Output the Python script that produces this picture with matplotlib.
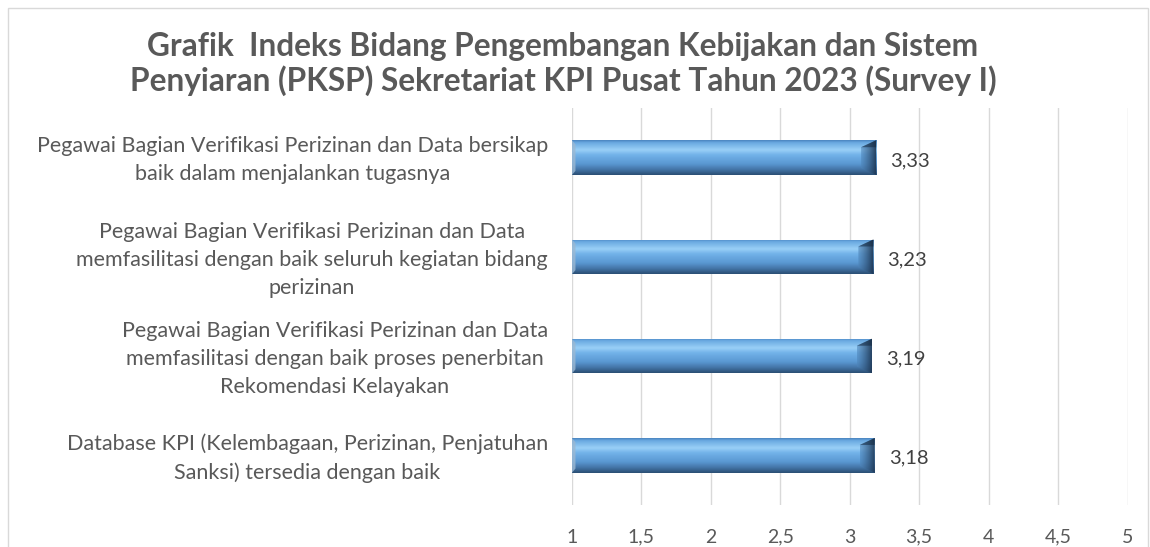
import matplotlib
matplotlib.use("Agg")
import matplotlib.pyplot as plt
import numpy as np
from matplotlib.colors import LinearSegmentedColormap, to_rgb
from matplotlib.patches import Polygon, Rectangle

# ---------------- data ----------------
categories = [
    "Pegawai Bagian Verifikasi Perizinan dan Data bersikap\nbaik dalam menjalankan tugasnya",
    "Pegawai Bagian Verifikasi Perizinan dan Data\nmemfasilitasi dengan baik seluruh kegiatan bidang\nperizinan",
    "Pegawai Bagian Verifikasi Perizinan dan Data\nmemfasilitasi dengan baik proses penerbitan\nRekomendasi Kelayakan",
    "Database KPI (Kelembagaan, Perizinan, Penjatuhan\nSanksi) tersedia dengan baik",
]
bar_values = [3.19, 3.17, 3.16, 3.18]          # bar lengths as drawn
value_labels = ["3,33", "3,23", "3,19", "3,18"]  # data labels as printed
x_ticks = [1, 1.5, 2, 2.5, 3, 3.5, 4, 4.5, 5]
x_tick_labels = ["1", "1,5", "2", "2,5", "3", "3,5", "4", "4,5", "5"]
title = ("Grafik  Indeks Bidang Pengembangan Kebijakan dan Sistem\n"
         "Penyiaran (PKSP) Sekretariat KPI Pusat Tahun 2023 (Survey I)")

FONT = ["Lato", "DejaVu Sans"]
TXT = "#595959"

W, H = 1150, 547
fig = plt.figure(figsize=(W / 100, H / 100), dpi=100)
fig.patch.set_facecolor("white")

# chart frame
fig.add_artist(Rectangle((8 / W, -0.01), (1148 - 8) / W, 1 - 8 / H + 0.01,
                         transform=fig.transFigure, fill=False,
                         edgecolor="#d9d9d9", linewidth=1.0))

left, right, top, bottom = 572, 1127.5, 108, 505
ax = fig.add_axes([left / W, 1 - bottom / H, (right - left) / W, (bottom - top) / H])
ax.set_xlim(1, 5)
ax.set_ylim(len(categories) - 0.5, -0.5)
for s in ax.spines.values():
    s.set_visible(False)
ax.set_xticks(x_ticks)
ax.set_xticklabels(x_tick_labels, fontsize=14, color=TXT, family=FONT)
ax.tick_params(axis="x", length=0, pad=17)
ax.set_yticks(range(len(categories)))
ax.set_yticklabels([])
ax.tick_params(axis="y", length=0)
ax.grid(axis="x", color="#d9d9d9", linewidth=1.0)
ax.set_axisbelow(True)

# bevel gradient colours (top -> bottom)
grad = LinearSegmentedColormap.from_list("bevel", [
    (0.00, "#4a84bf"),
    (0.06, "#68a8e0"),
    (0.28, "#9ad0f7"),
    (0.42, "#72b2e9"),
    (0.68, "#5a98d2"),
    (0.84, "#4577aa"),
    (1.00, "#2b4f74"),
])
gimg = np.linspace(0, 1, 64).reshape(-1, 1)

# right bevel: horizontal gradient to dark
c0 = np.array(to_rgb("#4f86bb"))
c1 = np.array(to_rgb("#1c3450"))
tt = np.linspace(0, 1, 32)
rimg = np.zeros((1, 32, 4))
rimg[0, :, :3] = c0 + (c1 - c0) * tt[:, None]
rimg[0, :, 3] = 0.55 + 0.4 * tt

bh = 0.35
dx = 15 / 138.6
for i, (v, lab) in enumerate(zip(bar_values, value_labels)):
    bars = ax.barh(i, v - 1, left=1, height=bh, color="#5b9bd5", zorder=2)
    patch = bars[0]
    im = ax.imshow(gimg, cmap=grad, aspect="auto", zorder=3,
                   extent=(1, v, i + bh / 2, i - bh / 2), interpolation="bicubic")
    im.set_clip_path(patch)
    e = bh * 0.2
    # right bevel
    rp = Polygon([(v - dx, i - bh / 2 + e), (v, i - bh / 2),
                  (v, i + bh / 2), (v - dx, i + bh / 2 - e)],
                 closed=True, facecolor="none", edgecolor="none")
    ax.add_patch(rp)
    rim = ax.imshow(rimg, aspect="auto", zorder=4,
                    extent=(v - dx, v, i + bh / 2, i - bh / 2), interpolation="bilinear")
    rim.set_clip_path(rp)
    ax.add_patch(Polygon([(v - dx, i - bh / 2 + e), (v, i - bh / 2),
                          (v, i - bh / 2 + e)], closed=True,
                         facecolor="#15283d", alpha=0.55, edgecolor="none", zorder=5))
    # left bevel
    ax.add_patch(Polygon([(1, i - bh / 2), (1 + 0.025, i - bh / 2 + e * 0.6),
                          (1 + 0.025, i + bh / 2 - e * 0.6), (1, i + bh / 2)],
                         closed=True, facecolor="#9bb8d2", alpha=0.8,
                         edgecolor="none", zorder=4))
    ax.text(v + 0.1, i + 0.03, lab, va="center", ha="left", fontsize=14.5,
            color="#404040", family=FONT, zorder=6)

# category labels (right aligned block, centred lines)
for i, cat in enumerate(categories):
    ax.annotate(cat, xy=(1, i), xycoords="data", xytext=(-17.3, -2),
                textcoords="offset points", ha="right", va="center",
                multialignment="center", fontsize=15.5, color=TXT,
                family=FONT, linespacing=1.5, annotation_clip=False)

fig.text(0.5 * (136 + 990) / W, 1 - 64 / H, title, ha="center", va="center",
         fontsize=22.8, fontweight="bold", color=TXT, family=FONT, linespacing=1.2)

fig.savefig("out.png", dpi=100)
